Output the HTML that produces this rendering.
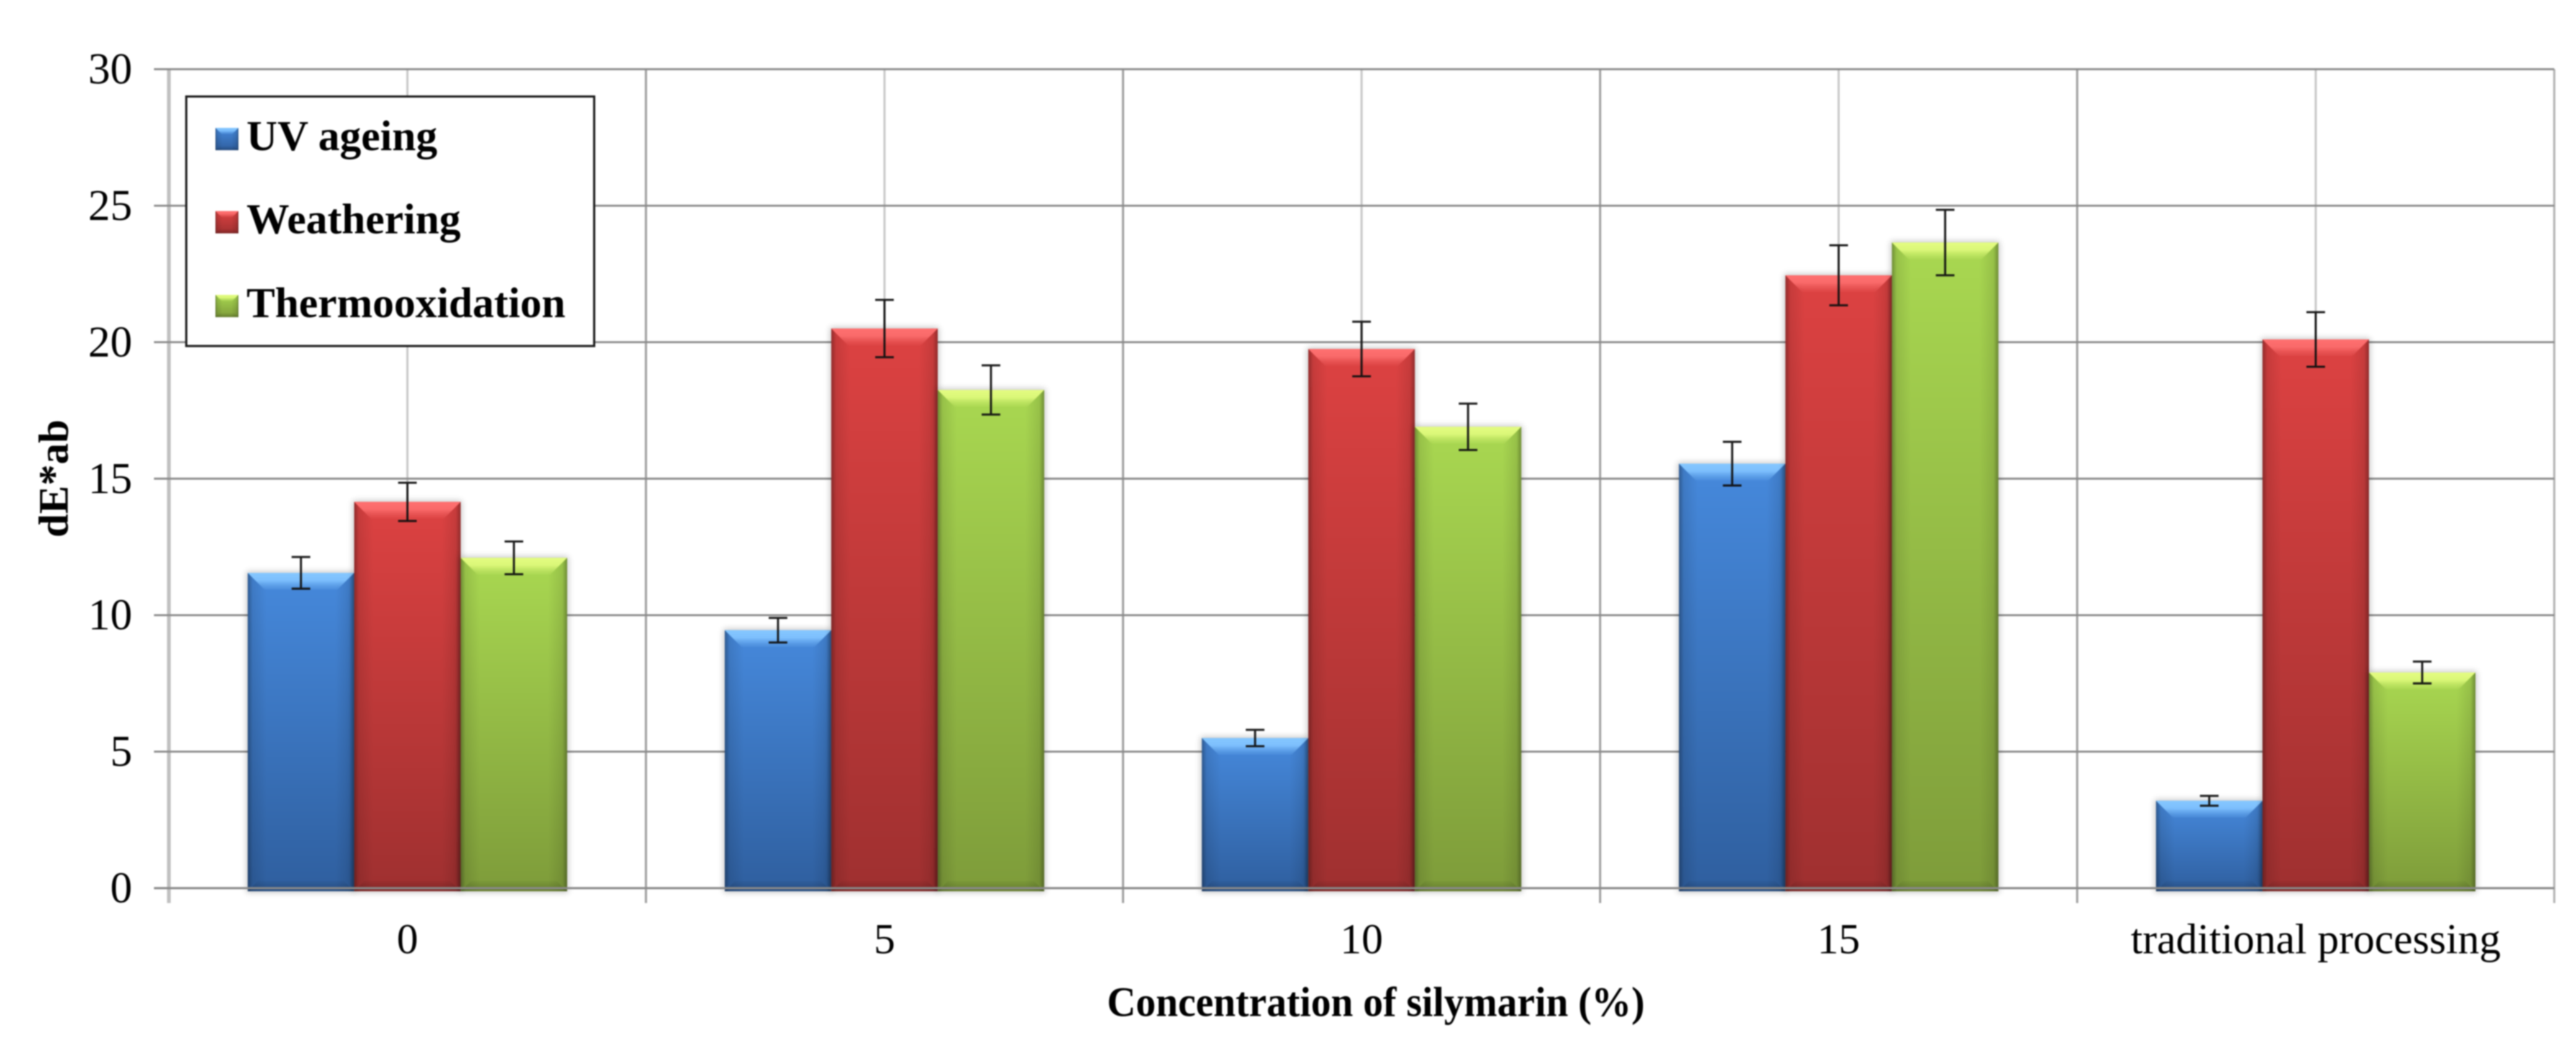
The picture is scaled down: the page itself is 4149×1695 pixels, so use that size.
<!DOCTYPE html>
<html lang="en">
<head>
<meta charset="utf-8">
<title>dE*ab by concentration of silymarin</title>
<style>
html,body{margin:0;padding:0;background:#fff;}
body{width:4149px;height:1695px;overflow:hidden;}
svg{display:block;filter:blur(1.1px);}
text{font-family:"Liberation Serif","Times New Roman",serif;fill:#000;}
</style>
</head>
<body>
<svg id="chart" xmlns="http://www.w3.org/2000/svg" width="4149" height="1695" viewBox="0 0 4149 1695">
  <defs>
    <linearGradient id="base-blue" x1="0" y1="0" x2="0" y2="1"><stop offset="0" stop-color="#4689dc"/><stop offset="1" stop-color="#2f5f9f"/></linearGradient>
    <linearGradient id="base-red" x1="0" y1="0" x2="0" y2="1"><stop offset="0" stop-color="#dd4242"/><stop offset="1" stop-color="#9f3030"/></linearGradient>
    <linearGradient id="base-green" x1="0" y1="0" x2="0" y2="1"><stop offset="0" stop-color="#a9d851"/><stop offset="1" stop-color="#7e9c3a"/></linearGradient>
    <linearGradient id="top-blue" x1="0" y1="0" x2="0" y2="1"><stop offset="0" stop-color="#86c8ff"/><stop offset="0.45" stop-color="#80c2ff" stop-opacity="0.95"/><stop offset="1" stop-color="#6aaef2" stop-opacity="0.15"/></linearGradient>
    <linearGradient id="top-red" x1="0" y1="0" x2="0" y2="1"><stop offset="0" stop-color="#ff7070"/><stop offset="0.45" stop-color="#fb6c6c" stop-opacity="0.95"/><stop offset="1" stop-color="#ee5c5c" stop-opacity="0.15"/></linearGradient>
    <linearGradient id="top-green" x1="0" y1="0" x2="0" y2="1"><stop offset="0" stop-color="#e4fc82"/><stop offset="0.45" stop-color="#ddf97a" stop-opacity="0.95"/><stop offset="1" stop-color="#c6ea68" stop-opacity="0.15"/></linearGradient>
    <linearGradient id="side-left" x1="0" y1="0" x2="1" y2="0"><stop offset="0" stop-color="#000" stop-opacity="0.34"/><stop offset="0.25" stop-color="#000" stop-opacity="0.1"/><stop offset="1" stop-color="#000" stop-opacity="0"/></linearGradient>
    <linearGradient id="side-right" x1="1" y1="0" x2="0" y2="0"><stop offset="0" stop-color="#000" stop-opacity="0.34"/><stop offset="0.25" stop-color="#000" stop-opacity="0.1"/><stop offset="1" stop-color="#000" stop-opacity="0"/></linearGradient>
    <linearGradient id="bottom-shade" x1="0" y1="1" x2="0" y2="0"><stop offset="0" stop-color="#000" stop-opacity="0.2"/><stop offset="1" stop-color="#000" stop-opacity="0.03"/></linearGradient>
    <filter id="soft-shadow" x="-10%" y="-10%" width="120%" height="120%"><feGaussianBlur stdDeviation="5"/></filter>
  </defs>

  <g id="grid"></g>
  <g id="y-axis-labels"></g>
  <g id="bars"></g>
  <g id="baseline"></g>
  <g id="errors"></g>
  <g id="x-axis-labels"></g>

  <text transform="translate(109,866) rotate(-90)" font-size="68" font-weight="bold" textLength="190" lengthAdjust="spacingAndGlyphs">dE*ab</text>
  <text x="1783" y="1637" font-size="68" font-weight="bold" textLength="866" lengthAdjust="spacingAndGlyphs">Concentration of silymarin (%)</text>

  <g id="legend">
    <rect x="300" y="155.5" width="657" height="402" fill="#fff" stroke="#1c1c1c" stroke-width="3.5"/>
  </g>
</svg>

<script>
// ---- chart data ----
const categories = ["0", "5", "10", "15", "traditional processing"];
const yTickLabels = [0, 5, 10, 15, 20, 25, 30];
const seriesNames = ["UV ageing", "Weathering", "Thermooxidation"];
const uvAgeing = [11.55, 9.45, 5.5, 15.55, 3.2];
const weathering = [14.15, 20.5, 19.75, 22.45, 20.1];
const thermooxidation = [12.1, 18.25, 16.9, 23.65, 7.9];
const uvAgeingError = [0.58, 0.45, 0.3, 0.8, 0.18];
const weatheringError = [0.7, 1.05, 1.0, 1.1, 1.0];
const thermooxidationError = [0.6, 0.9, 0.85, 1.2, 0.4];

const seriesValues = [uvAgeing, weathering, thermooxidation];
const seriesErrors = [uvAgeingError, weatheringError, thermooxidationError];
const seriesKeys = ["blue", "red", "green"];

// ---- axis functions ----
const plotLeft = 272, plotRight = 4114, plotTop = 111.5, plotBottom = 1431;
const yMax = 30;
function yScale(v) { return plotBottom - v * (plotBottom - plotTop) / yMax; }
function bandStart(i) { return plotLeft + i * (plotRight - plotLeft) / categories.length; }
function bandCentre(i) { return bandStart(i) + (plotRight - plotLeft) / categories.length / 2; }
const barWidth = 171.5;
function barLeft(i, s) { return bandCentre(i) + (s - seriesValues.length / 2) * barWidth; }

const NS = "http://www.w3.org/2000/svg";
function mk(parent, tag, attrs) {
  const el = document.createElementNS(NS, tag);
  for (const k in attrs) el.setAttribute(k, attrs[k]);
  parent.appendChild(el);
  return el;
}

function drawBevelBar(group, key, x, w, top, bottom, bevel, shadow) {
  if (shadow) {
    mk(group, "rect", { x: x - 2, y: top - 2, width: w + 4, height: bottom - top + 4, fill: "#000", opacity: 0.22, filter: "url(#soft-shadow)" });
  }
  mk(group, "rect", { x: x, y: top, width: w, height: bottom - top, fill: "url(#base-" + key + ")" });
  const side = bevel * 1.15;
  mk(group, "rect", { x: x, y: top, width: side, height: bottom - top, fill: "url(#side-left)" });
  mk(group, "rect", { x: x + w - side, y: top, width: side, height: bottom - top, fill: "url(#side-right)" });
  const bh = bevel * 0.62;
  mk(group, "polygon", { points: [x, bottom, x + w, bottom, x + w - bh, bottom - bh, x + bh, bottom - bh].join(" "), fill: "url(#bottom-shade)" });
  mk(group, "polygon", { points: [x, top, x + w, top, x + w - bevel, top + bevel, x + bevel, top + bevel].join(" "), fill: "url(#top-" + key + ")" });
}

// ---- gridlines ----
const grid = document.getElementById("grid");
categories.forEach(function (c, i) {
  const line = mk(grid, "line", { x1: bandCentre(i), x2: bandCentre(i), y1: plotTop, y2: plotBottom, stroke: "#c9c9c9", "stroke-width": 3.5 });
  
  
});
for (let i = 0; i <= categories.length; i++) {
  const edge = i === 0;
  const line = mk(grid, "line", { x1: bandStart(i), x2: bandStart(i), y1: plotTop, y2: plotBottom + 24, stroke: edge ? "#c0c0c0" : (i === categories.length ? "#b4b4b4" : "#a0a0a0"), "stroke-width": edge ? 6 : 3.5 });
  
  
}
const yLabelGroup = document.getElementById("y-axis-labels");
yTickLabels.forEach(function (t) {
  if (t !== 0) {
    const line = mk(grid, "line", { x1: plotLeft - 24, x2: plotRight, y1: yScale(t), y2: yScale(t), stroke: "#8a8a8a", "stroke-width": 3.2 });
    
    
  }
  const label = mk(yLabelGroup, "text", { x: 213, y: yScale(t) + 23, "font-size": 71, "text-anchor": "end" });
  label.textContent = String(t);
  
  
});

// ---- bars ----
const barGroup = document.getElementById("bars");
const errGroup = document.getElementById("errors");
seriesValues.forEach(function (vals, s) {
  vals.forEach(function (v, i) {
    const g = mk(barGroup, "g", {});
    
    
    drawBevelBar(g, seriesKeys[s], barLeft(i, s), barWidth, yScale(v), yScale(0) + 5, 27, true);
  });
});

// ---- baseline on top of bars ----
const baselineGroup = document.getElementById("baseline");
const axisLine = mk(baselineGroup, "line", { x1: plotLeft - 24, x2: plotRight, y1: yScale(0), y2: yScale(0), stroke: "#8a8a8a", "stroke-width": 3.5 });



// ---- error bars ----
seriesValues.forEach(function (vals, s) {
  vals.forEach(function (v, i) {
    const e = seriesErrors[s][i];
    const cx = barLeft(i, s) + barWidth / 2;
    const g = mk(errGroup, "g", { stroke: "#111", "stroke-width": 3.4, opacity: 0.95 });
    
    
    mk(g, "line", { x1: cx, x2: cx, y1: yScale(v + e), y2: yScale(v - e) });
    mk(g, "line", { x1: cx - 15, x2: cx + 15, y1: yScale(v + e), y2: yScale(v + e) });
    mk(g, "line", { x1: cx - 15, x2: cx + 15, y1: yScale(v - e), y2: yScale(v - e) });
  });
});

// ---- category labels ----
const xLabelGroup = document.getElementById("x-axis-labels");
categories.forEach(function (c, i) {
  const t = mk(xLabelGroup, "text", { x: bandCentre(i), y: 1536, "font-size": 69, "text-anchor": "middle" });
  t.textContent = c;
  
  
});

// ---- legend ----
const legend = document.getElementById("legend");
const legendBaselines = [242, 376, 511];
seriesNames.forEach(function (name, s) {
  const g = mk(legend, "g", {});
  
  
  const b = legendBaselines[s];
  drawBevelBar(g, seriesKeys[s], 347, 37, b - 36, b, 10, false);
  const t = mk(g, "text", { x: 397, y: b, "font-size": 69, "font-weight": "bold" });
  t.textContent = name;
});
</script>
</body>
</html>
